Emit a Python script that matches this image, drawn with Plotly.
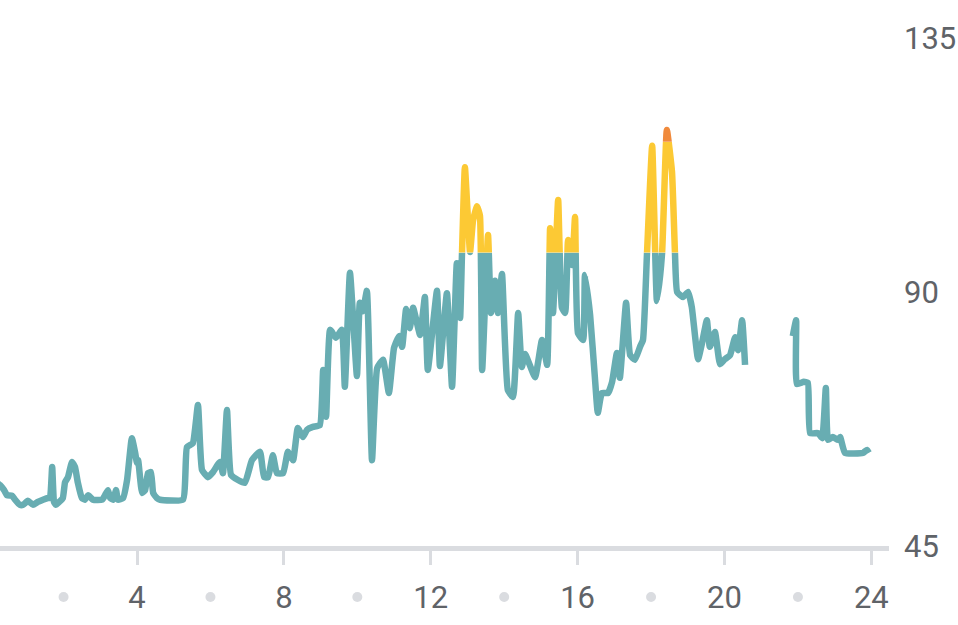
import plotly.graph_objects as go

# ---- data (hour of day, value) ----
hours = [0.19, 0.27, 0.38, 0.46, 0.60, 0.68, 0.81, 0.90, 1.03, 1.17, 1.30, 1.44, 1.58, 1.63, 1.69,
         1.74, 1.79, 1.88, 1.98, 2.04, 2.12, 2.23, 2.31, 2.39, 2.50, 2.58, 2.67, 2.80, 3.05, 3.13,
         3.21, 3.27, 3.35, 3.43, 3.48, 3.62, 3.73, 3.86, 3.95, 4.00, 4.03, 4.14, 4.22, 4.30, 4.38,
         4.44, 4.54, 4.63, 5.25, 5.36, 5.52, 5.66, 5.77, 5.93, 6.07, 6.26, 6.34, 6.45, 6.56, 6.75,
         6.94, 7.13, 7.35, 7.46, 7.57, 7.70, 7.81, 7.98, 8.11, 8.25, 8.38, 8.52, 8.63, 8.79, 8.98,
         9.07, 9.15, 9.26, 9.42, 9.58, 9.66, 9.80, 9.99, 10.07, 10.15, 10.26, 10.40, 10.54, 10.70,
         10.86, 11.00, 11.14, 11.22, 11.33, 11.43, 11.52, 11.71, 11.84, 11.92, 12.17, 12.25, 12.44,
         12.58, 12.71, 12.80, 12.85, 12.93, 13.07, 13.15, 13.26, 13.34, 13.40, 13.56, 13.64, 13.75,
         13.83, 13.94, 14.10, 14.24, 14.38, 14.48, 14.57, 14.84, 15.03, 15.17, 15.25, 15.33, 15.47,
         15.57, 15.66, 15.74, 15.85, 15.93, 16.01, 16.15, 16.20, 16.34, 16.47, 16.55, 16.66, 16.83,
         16.94, 17.07, 17.15, 17.32, 17.43, 17.56, 17.70, 17.78, 17.89, 18.03, 18.16, 18.30, 18.43,
         18.57, 18.65, 18.71, 18.87, 19.01, 19.11, 19.28, 19.39, 19.52, 19.60, 19.74, 19.88, 20.01,
         20.15, 20.29, 20.37, 20.48, 20.56,
         21.20,
         21.86, 21.95, 21.97, 22.16, 22.27, 22.33, 22.55, 22.66, 22.76, 22.82, 22.95, 23.09, 23.15,
         23.28, 23.77, 23.88, 23.93]

values = [56.2, 55.8, 54.9, 54.0, 53.9, 53.2, 52.3, 52.3, 53.0, 52.3, 52.8, 53.2, 53.5, 53.5, 59.0,
          52.8, 52.3, 52.8, 53.5, 56.3, 57.2, 59.9, 59.0, 56.2, 53.5, 53.2, 54.0, 53.2, 53.2, 54.0,
          54.9, 53.5, 53.2, 54.9, 53.2, 53.5, 56.7, 64.1, 61.5, 59.7, 60.2, 54.4, 54.9, 57.9, 58.1,
          54.4, 53.5, 53.2, 53.2, 62.5, 63.2, 70.0, 58.5, 57.2, 58.1, 59.9, 57.9, 69.1, 57.6, 56.7,
          56.2, 60.2, 61.7, 57.2, 57.2, 61.1, 57.9, 57.9, 61.7, 60.2, 65.9, 64.3, 65.6, 66.1, 66.4,
          76.2, 67.9, 83.3, 81.9, 83.3, 73.2, 93.4, 75.1, 88.1, 86.6, 90.2, 60.2, 76.5, 78.0,
          72.1, 80.1, 82.2, 80.3, 87.0, 83.6, 87.2, 82.4, 89.1, 76.2, 90.2, 76.9, 89.8,
          73.2, 95.1, 85.4, 96.6, 112.1, 97.1, 102.6, 105.2, 103.5, 76.2, 100.1, 86.3, 92.0,
          86.3, 93.2, 72.6, 71.4, 86.3, 76.7, 79.0, 74.9, 81.5, 77.1, 101.3, 86.3, 106.3,
          87.3, 86.3, 99.2, 94.8, 103.3, 82.7, 81.5, 93.0, 85.9, 74.9, 68.6, 72.1, 72.1,
          74.1, 79.2, 74.8, 88.1, 78.8, 78.0, 80.3, 81.5, 96.9, 115.9, 88.4, 96.9, 118.7,
          111.3, 97.1, 90.0, 89.1, 90.0, 87.3, 78.1, 81.0, 85.0, 80.3, 82.9, 77.2, 78.1,
          78.8, 82.0, 79.7, 85.0, 77.1,
          None,
          82.2, 85.0, 73.7, 74.1, 73.9, 65.0, 65.0, 64.1, 73.0, 63.8, 64.3, 63.8, 64.3,
          61.5, 61.5, 62.0, 61.5]

x_tick_vals = [4, 8, 12, 16, 20, 24]
x_tick_text = ["4", "8", "12", "16", "20", "24"]
x_dot_vals = [2, 6, 10, 14, 18, 22]
y_tick_vals = [45, 90, 135]
y_tick_text = ["45", "90", "135"]

# colour bands (value thresholds)
Y_MIN, Y_MAX = 45, 135
YELLOW_FROM = 97
ORANGE_FROM = 116.6
X_RANGE = [0.269, 24.48]

TEAL = "#68adb2"
YELLOW = "#fcc934"
ORANGE = "#f08a3c"
GRID = "#dadce0"
TEXT = "#5f6368"
FONT = "Roboto"

def frac(v):
    return (v - Y_MIN) / (Y_MAX - Y_MIN)

fig = go.Figure()
# base subplot (grid + labels)
fig.add_trace(go.Scatter(x=[], y=[], xaxis="x", yaxis="y", showlegend=False))

bands = [("y2", Y_MIN, YELLOW_FROM, TEAL),
         ("y3", YELLOW_FROM, ORANGE_FROM, YELLOW),
         ("y4", ORANGE_FROM, Y_MAX, ORANGE)]
for ax, lo, hi, col in bands:
    fig.add_trace(go.Scatter(
        x=hours, y=values, xaxis="x", yaxis=ax, mode="lines",
        line=dict(color=col, width=6.5, shape="spline", smoothing=0.4),
        connectgaps=False, hoverinfo="skip", showlegend=False))

layout_axes = {}
for ax, lo, hi, col in bands:
    name = "yaxis" + ax[1:]
    layout_axes[name] = dict(domain=[frac(lo), frac(hi)], range=[lo, hi], anchor="x",
                             visible=False, fixedrange=True)

fig.update_layout(
    width=958, height=625,
    margin=dict(l=0, r=69, t=38, b=79),
    paper_bgcolor="white", plot_bgcolor="white",
    showlegend=False,
    font=dict(family=FONT, color=TEXT, size=31),
    xaxis=dict(range=X_RANGE, anchor="y", tickmode="array",
               tickvals=x_tick_vals, ticktext=x_tick_text,
               showgrid=False, zeroline=False,
               showline=True, linecolor=GRID, linewidth=5,
               ticks="outside", ticklen=14, tickwidth=3, tickcolor=GRID,
               ticklabelstandoff=6,
               tickfont=dict(family=FONT, size=31, color=TEXT), fixedrange=True),
    yaxis=dict(range=[Y_MIN, Y_MAX], domain=[0, 1], side="right", anchor="x",
               tickmode="array", tickvals=y_tick_vals, ticktext=y_tick_text,
               showgrid=True, gridcolor=GRID, gridwidth=2, zeroline=False,
               showline=False, ticks="", ticklabelstandoff=14,
               tickfont=dict(family=FONT, size=31, color=TEXT), fixedrange=True),
    **layout_axes,
)

# grey dots between the hour labels
for xv in x_dot_vals:
    fig.add_shape(type="circle", xref="x", yref="paper",
                  xsizemode="pixel", ysizemode="pixel",
                  xanchor=xv, yanchor=-0.1004,
                  x0=-5, x1=5, y0=-5, y1=5,
                  fillcolor=GRID, line=dict(width=0), layer="above")

fig.write_html("out.html")
